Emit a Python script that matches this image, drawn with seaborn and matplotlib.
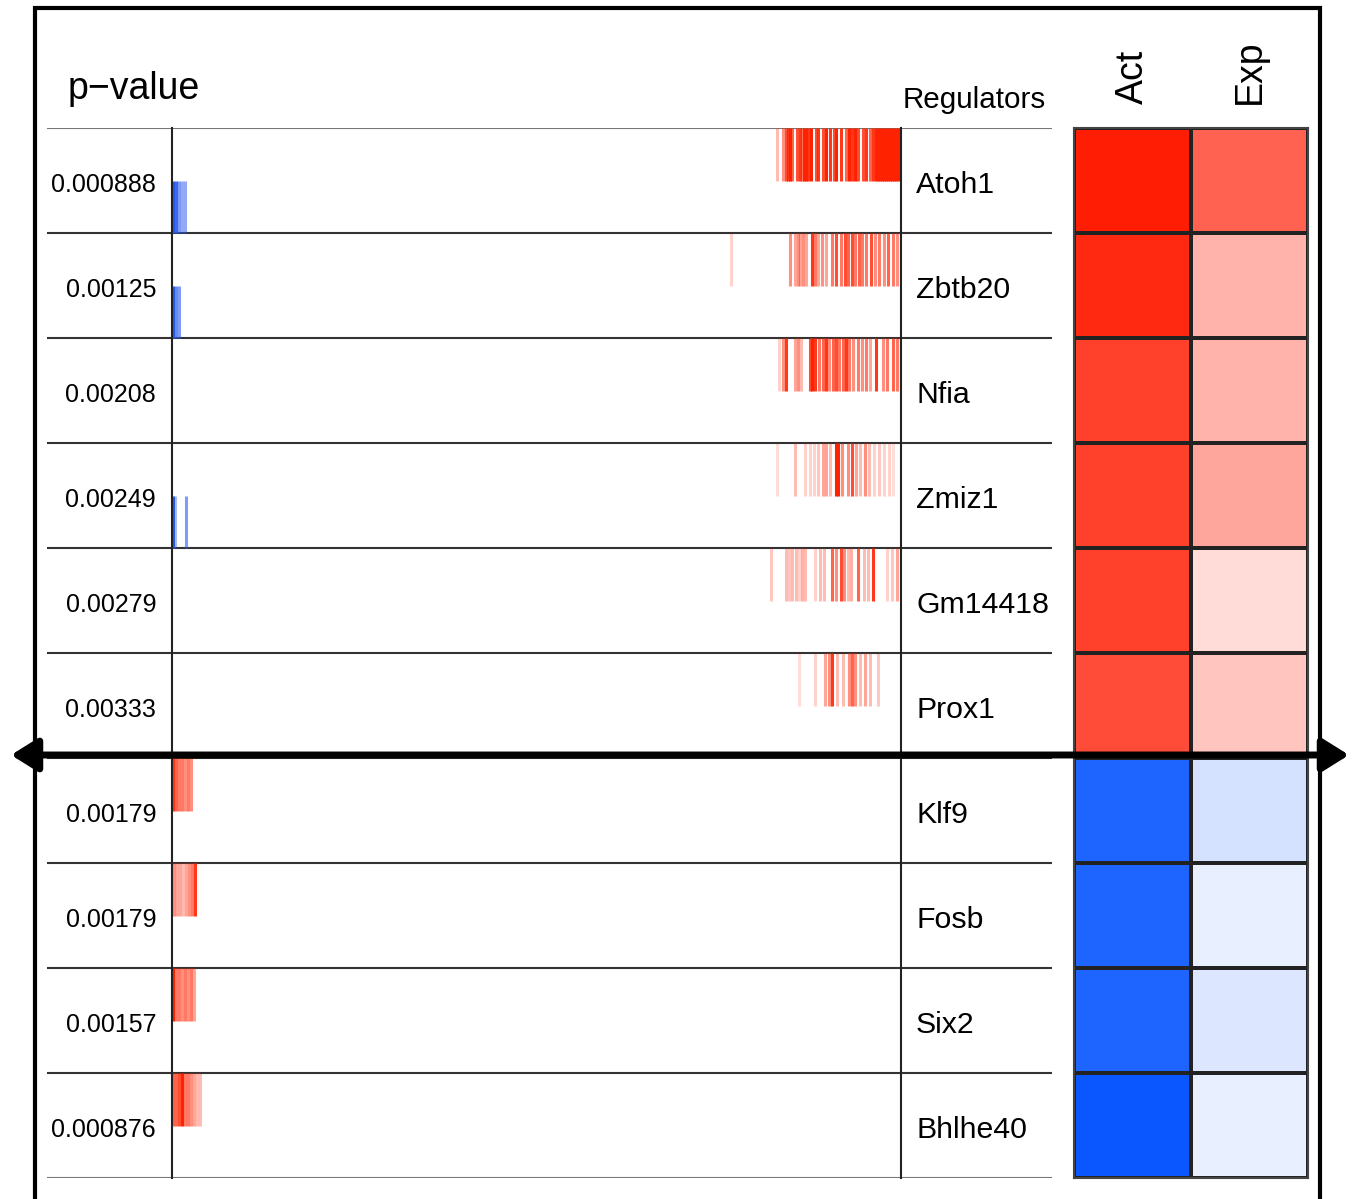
import numpy as np
import pandas as pd
import matplotlib
matplotlib.use('Agg')
import matplotlib.pyplot as plt
import seaborn as sns
from matplotlib.colors import LinearSegmentedColormap, to_rgba
from matplotlib.patches import Rectangle, FancyArrowPatch

# Regulators, p-values and activity / expression scores
regulators = ['Atoh1', 'Zbtb20', 'Nfia', 'Zmiz1', 'Gm14418', 'Prox1',
              'Klf9', 'Fosb', 'Six2', 'Bhlhe40']
p_values = ['0.000888', '0.00125', '0.00208', '0.00249', '0.00279', '0.00333',
            '0.00179', '0.00179', '0.00157', '0.000876']
act = [0.98, 0.93, 0.83, 0.83, 0.83, 0.78, -0.88, -0.88, -0.88, -0.96]
exp = [0.68, 0.33, 0.33, 0.39, 0.15, 0.25, -0.17, -0.09, -0.14, -0.09]

# Ranked gene list length and barcode hits: (rank, weight)
n_genes = 7290
atoh1_up = [(6050, .3), (6110, .5), (6140, .8), (6160, .9), (6180, 1), (6200, .7),
            (6250, .8), (6280, .9), (6300, .6), (6320, 1), (6340, 1), (6360, .9),
            (6390, 1), (6440, .8), (6460, .9), (6510, .8), (6540, 1), (6580, .9),
            (6620, .8), (6640, 1), (6690, .9), (6740, .7), (6770, 1), (6800, .9),
            (6830, 1), (6860, .8), (6910, .8), (6940, .9), (6980, .7), (7010, .9),
            (7040, 1), (7060, 1), (7080, 1), (7100, 1), (7120, 1), (7140, 1),
            (7160, 1), (7180, 1), (7200, 1), (7220, 1), (7240, 1), (7260, 1)]
zbtb20_up = [(5590, .2), (6180, .5), (6230, .4), (6260, .5), (6280, .4), (6310, .5),
             (6340, .4), (6400, .9), (6430, .6), (6460, .4), (6500, .5), (6540, .4),
             (6600, .6), (6640, .8), (6690, .6), (6730, .8), (6760, .7), (6800, .8),
             (6830, .6), (6870, .7), (6900, .6), (6940, .6), (6990, .8), (7030, .5),
             (7070, .6), (7120, .5), (7160, .7), (7210, .6), (7250, .5)]
nfia_up = [(6070, .2), (6110, .5), (6140, .9), (6230, .4), (6260, .5), (6290, .3),
           (6380, .8), (6400, 1), (6430, .9), (6470, .6), (6510, .7), (6540, .9),
           (6570, .5), (6610, .7), (6640, .8), (6670, .6), (6710, .7), (6740, .9),
           (6770, .6), (6810, .5), (6860, .6), (6900, .5), (6940, .6), (6980, .4),
           (7040, .9), (7110, .5), (7150, .6), (7210, .7), (7250, .6)]
zmiz1_up = [(6050, .15), (6230, .3), (6330, .2), (6380, .2), (6420, .2), (6460, .25),
            (6510, .4), (6540, .4), (6580, .3), (6640, 1), (6660, 1), (6700, .5),
            (6760, .5), (6800, .8), (6840, .4), (6880, .3), (6930, .5), (6970, .3),
            (7020, .2), (7070, .25), (7120, .2), (7170, .2), (7210, .15)]
gm14418_up = [(5990, .25), (6140, .3), (6170, .25), (6200, .3), (6240, .3), (6270, .2),
              (6300, .35), (6330, .3), (6430, .2), (6480, .3), (6520, .3), (6600, .7),
              (6640, .5), (6690, .8), (6720, .5), (6760, .3), (6790, .35), (6860, .7),
              (6920, .3), (6960, .3), (7010, .9), (7150, .2), (7200, .25), (7250, .4)]
prox1_up = [(6270, .15), (6430, .2), (6530, .4), (6570, .5), (6600, .9), (6650, .3),
            (6710, .3), (6770, .5), (6800, .7), (6830, .5), (6880, .3), (6930, .4),
            (6980, .3), (7060, .25)]
klf9_up = [(10, .9), (40, .7), (70, .6), (100, .6), (130, .5), (160, .6), (190, .5)]
fosb_up = [(20, .5), (50, .4), (80, .4), (110, .3), (140, .4), (170, .5), (200, .6),
           (230, .9)]
six2_up = [(10, 1), (40, .6), (70, .6), (100, .5), (130, .6), (160, .5), (190, .6),
           (220, .4)]
bhlhe40_up = [(10, .7), (40, .7), (70, .8), (100, 1), (130, .6), (160, .6), (190, .5),
              (220, .4), (250, .3), (280, .3)]
atoh1_down = [(10, 1), (40, .9), (70, .6), (100, .5), (130, .5)]
zbtb20_down = [(10, 1), (40, .7), (70, .6)]
zmiz1_down = [(10, 1), (30, .4), (140, .6)]

up_hits = [atoh1_up, zbtb20_up, nfia_up, zmiz1_up, gm14418_up, prox1_up,
           klf9_up, fosb_up, six2_up, bhlhe40_up]
down_hits = [atoh1_down, zbtb20_down, [], zmiz1_down, [], [], [], [], [], []]

sns.set_style('white')
plt.rcParams['font.family'] = ['Liberation Sans', 'DejaVu Sans']
plt.rcParams['text.color'] = 'black'
plt.rcParams['xtick.color'] = 'black'

W, H = 1357, 1199
fig = plt.figure(figsize=(W / 100, H / 100), dpi=100)


def box(l, t, r, b):
    return [l / W, 1 - b / H, (r - l) / W, (b - t) / H]


n = len(regulators)
red = '#FF2200'
blue = '#2958F0'

# table frame: row lines, p-values and regulator names
ax_tab = fig.add_axes(box(47, 128, 1052, 1178))
ax_tab.set_xlim(0, 1)
ax_tab.set_ylim(n, 0)
ax_tab.axis('off')
for i in range(n + 1):
    c = '#777777' if i in (0, n) else '#333333'
    ax_tab.axhline(i, color=c, lw=1.5)
for i, (pv, reg) in enumerate(zip(p_values, regulators)):
    ax_tab.text(0.1085, i + 0.54, pv, ha='right', va='center', fontsize=18)
    ax_tab.text(0.8647, i + 0.54, reg, ha='left', va='center', fontsize=21.8)
ax_tab.text(0.021, -0.37, 'p\u2212value', ha='left', va='center', fontsize=27)
ax_tab.text(0.851, -0.27, 'Regulators', ha='left', va='center', fontsize=21.3)

# barcode panel
ax_bar = fig.add_axes(box(172, 128, 901, 1178))
ax_bar.patch.set_alpha(0)
ax_bar.set_xlim(0, n_genes)
ax_bar.set_ylim(n, 0)
ax_bar.set_xticks([])
ax_bar.set_yticks([])
for s in ['top', 'bottom']:
    ax_bar.spines[s].set_visible(False)
for s in ['left', 'right']:
    ax_bar.spines[s].set_color('#222222')
    ax_bar.spines[s].set_linewidth(1.5)
for i, hits in enumerate(up_hits):
    if hits:
        ranks, w = zip(*hits)
        ax_bar.vlines(ranks, i, i + 0.5, colors=[to_rgba(red, a) for a in w], lw=2.2)
for i, hits in enumerate(down_hits):
    if hits:
        ranks, w = zip(*hits)
        ax_bar.vlines(ranks, i + 0.5, i + 1, colors=[to_rgba(blue, a) for a in w], lw=2.2)

# heatmap of activity / expression
df = pd.DataFrame({'Act': act, 'Exp': exp}, index=regulators)
cmap = LinearSegmentedColormap.from_list('bwr2', ['#0050FF', '#FFFFFF', '#FF1A00'])
ax_heat = fig.add_axes(box(1074, 128, 1308, 1178))
sns.heatmap(df, ax=ax_heat, cmap=cmap, vmin=-1, vmax=1, cbar=False,
            linewidths=1.5, linecolor='#222222', yticklabels=False)
ax_heat.xaxis.tick_top()
ax_heat.tick_params(axis='x', length=0, pad=17, labelsize=27, rotation=90,
                    labelcolor='black')
for s in ax_heat.spines.values():
    s.set_visible(True)
    s.set_color('#444444')
    s.set_linewidth(1.5)

# outer frame and dividing arrow
fig.add_artist(Rectangle((35 / W, -0.1), (1320 - 35) / W, 1.1 - 8 / H,
                         transform=fig.transFigure, fill=False, lw=3, ec='black'))
y_arrow = 1 - 755 / H
fig.add_artist(FancyArrowPatch((11 / W, y_arrow), (1349 / W, y_arrow),
                               transform=fig.transFigure,
                               arrowstyle='<|-|>,head_length=0.8,head_width=0.5',
                               mutation_scale=20, lw=5, color='black',
                               shrinkA=0, shrinkB=0))

fig.savefig('out.png', dpi=100)
